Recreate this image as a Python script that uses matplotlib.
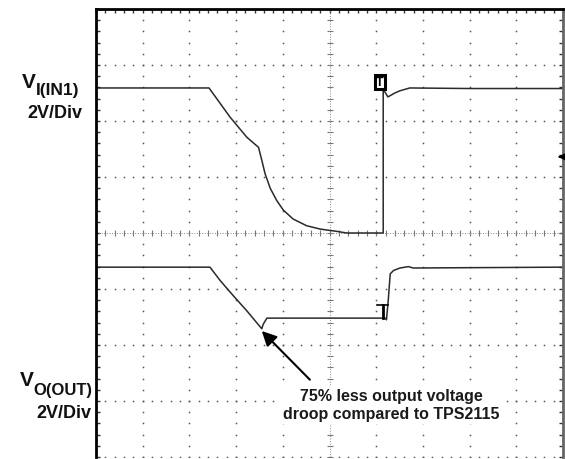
import numpy as np
import matplotlib
matplotlib.use('Agg')
from matplotlib import pyplot as plt
from matplotlib.ticker import MultipleLocator

plt.rcParams['font.family'] = ['Liberation Sans', 'DejaVu Sans']

# Traces in scope divisions (x: 0..10, y: -4..4)
vin_x = [0, 2.42, 2.87, 3.23, 3.48, 3.55, 3.62, 3.73, 3.87, 4.01, 4.22, 4.51, 4.80,
         5.15, 5.37, 6.12, 6.15, 6.15, 6.25, 6.40, 6.51, 6.72, 8.0, 9.98]
vin_y = [2.59, 2.59, 2.07, 1.71, 1.53, 1.30, 1.06, 0.80, 0.58, 0.41, 0.25, 0.13, 0.07,
         0.03, 0.0, 0.0, 0.0, 2.57, 2.43, 2.50, 2.54, 2.59, 2.58, 2.58]

vout_x = [0, 2.44, 2.66, 2.94, 3.23, 3.55, 3.58, 3.66, 6.19, 6.22, 6.26, 6.30,
          6.37, 6.51, 6.69, 6.79, 9.98]
vout_y = [-0.61, -0.61, -0.85, -1.12, -1.39, -1.71, -1.63, -1.52, -1.52, -1.55,
          -1.18, -0.73, -0.67, -0.625, -0.60, -0.625, -0.61]

trig_level = 1.36
note = '75% less output voltage\ndroop compared to TPS2115'

fig = plt.figure(figsize=(5.65, 4.6), dpi=100)
ax = fig.add_axes([96 / 565, 2 / 460, 467 / 565, 448 / 460])
ax.set_xlim(0, 10)
ax.set_ylim(-4, 4)

# graticule: dotted lines, 5 dots per division
dots_y = np.arange(-4, 4.01, 0.2)
dots_x = np.arange(0, 10.01, 0.2)
for gx in range(1, 10):
    if gx == 5:
        continue
    ax.plot([gx] * len(dots_y), dots_y, ls='none', marker='s', ms=1.1, mew=0, color='#555')
for gy in range(-4, 4):
    if gy == 0:
        continue
    ax.plot(dots_x, [gy] * len(dots_x), ls='none', marker='s', ms=1.1, mew=0, color='#555')
# center cross with small ticks
ax.plot([5] * len(dots_y), dots_y, ls='none', marker='_', ms=4, mew=0.8, color='#777')
ax.plot([5] * len(dots_y), dots_y, ls=':', lw=0.7, color='#888')
ax.plot(dots_x, [0] * len(dots_x), ls='none', marker='|', ms=4, mew=0.8, color='#777')
ax.plot(dots_x, [0] * len(dots_x), ls=':', lw=0.7, color='#888')

# traces
ax.plot(vin_x, vin_y, color='#2a2a2a', lw=1.1)
ax.plot(vout_x, vout_y, color='#2a2a2a', lw=1.1)

# trigger markers
ax.text(6.085, 2.70, 'T', ha='center', va='center', fontsize=9, fontweight='bold',
        color='black', bbox=dict(boxstyle='square,pad=0.1', fc='white', ec='black', lw=2.2))
ax.plot([6.02, 6.25], [-1.29, -1.29], color='black', lw=1.2)
ax.plot([6.15, 6.15], [-1.29, -1.52], color='black', lw=2)
ax.annotate('', xy=(9.83, trig_level), xytext=(10.0, trig_level),
            arrowprops=dict(arrowstyle='-|>', color='black', lw=1.5, mutation_scale=9),
            annotation_clip=False)

# annotation
ax.annotate('', xy=(3.55, -1.75), xytext=(4.58, -2.62),
            arrowprops=dict(arrowstyle='-|>', color='black', lw=1.5, mutation_scale=22,
                            shrinkA=0, shrinkB=0))
ax.text(6.32, -3.07, note, ha='center', va='center', fontsize=11.5, fontweight='bold',
        color='#1a1a1a', linespacing=1.25,
        bbox=dict(boxstyle='square,pad=0.15', fc='white', ec='none'))

# frame
for side in ['left', 'top']:
    ax.spines[side].set_linewidth(2)
    ax.spines[side].set_color('black')
ax.spines['right'].set_linewidth(2)
ax.spines['right'].set_color('#666')
ax.spines['bottom'].set_visible(False)
ax.xaxis.set_major_locator(MultipleLocator(1))
ax.xaxis.set_minor_locator(MultipleLocator(0.2))
ax.yaxis.set_major_locator(MultipleLocator(1))
ax.yaxis.set_minor_locator(MultipleLocator(0.2))
ax.tick_params(which='both', direction='in', length=3, width=1, color='#333',
               top=True, bottom=False, left=True, right=True,
               labelbottom=False, labelleft=False)

# channel labels (figure pixels)
def fy(py):
    return 1 - py / 460

lab = dict(fontweight='bold', va='baseline', color='#111')
fig.text(22 / 565, fy(88), 'V', fontsize=15, **lab)
fig.text(36 / 565, fy(95), 'I(IN1)', fontsize=12.5, **lab)
fig.text(82 / 565, fy(118), '2V/Div', fontsize=13, ha='right', **lab)
fig.text(20 / 565, fy(386), 'V', fontsize=15, **lab)
fig.text(33 / 565, fy(395), 'O(OUT)', fontsize=12, **lab)
fig.text(91 / 565, fy(418), '2V/Div', fontsize=13, ha='right', **lab)

fig.savefig('out.png', dpi=100)
